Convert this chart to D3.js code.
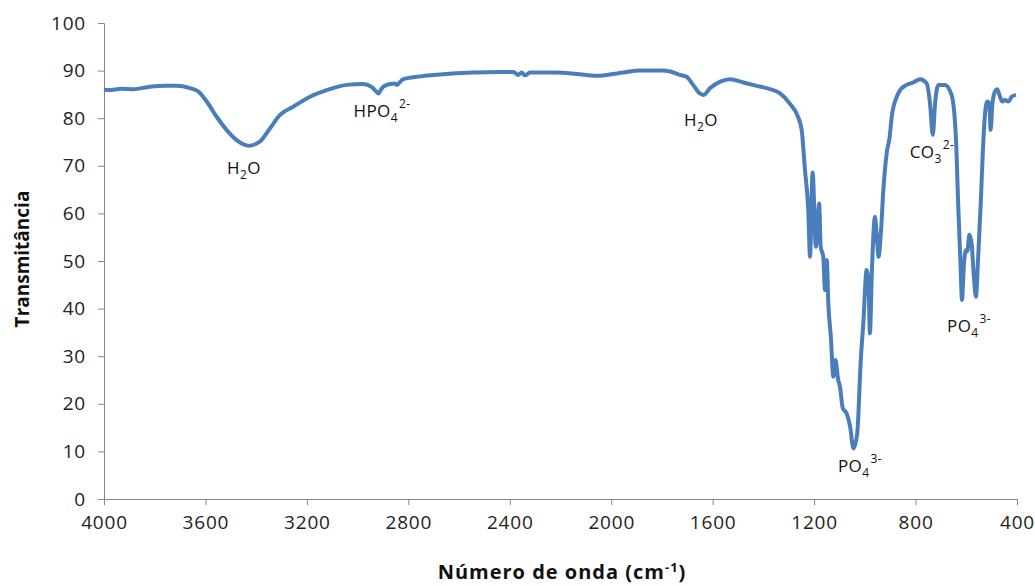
<!DOCTYPE html>
<html>
<head>
<meta charset="utf-8">
<script src="https://cdn.jsdelivr.net/npm/d3@7"></script>
<style>
  body { margin: 0; background: #fff; }
  svg { display: block; }
</style>
</head>
<body>
<div id="chart"></div>
<script>
// spectrum (cm-1 , %T)
var wavenumber = [4000, 3983, 3930, 3884, 3819, 3760, 3713, 3661, 3628, 3595, 3556, 3516, 3477, 3445, 3424, 3405, 3385, 3345, 3306, 3254, 3188, 3122, 3043, 2978, 2945, 2930, 2918, 2908, 2899, 2872, 2852, 2846, 2838, 2820, 2767, 2675, 2544, 2440, 2386, 2366, 2353, 2340, 2320, 2215, 2136, 2057, 2005, 1952, 1887, 1795, 1755, 1729, 1703, 1677, 1651, 1635, 1611, 1570, 1532, 1479, 1426, 1374, 1334, 1295, 1265, 1249, 1236, 1223, 1216, 1206, 1193, 1180, 1174, 1164, 1157, 1150, 1144, 1134, 1124, 1116, 1105, 1098, 1087, 1072, 1058, 1045, 1030, 1016, 1006, 993, 985, 980, 972, 960, 951, 946, 936, 927, 914, 902, 894, 874, 861, 835, 809, 782, 756, 743, 732, 723, 710, 684, 658, 641, 632, 622, 617, 609, 601, 596, 588, 579, 570, 562, 553, 543, 535, 526, 517, 509, 504, 497, 487, 478, 467, 458, 447, 434, 421, 404];
var transmittance = [86.0, 85.9, 86.2, 86.1, 86.6, 86.8, 86.8, 86.3, 85.6, 83.5, 80.3, 77.5, 75.4, 74.4, 74.2, 74.5, 75.1, 77.9, 80.7, 82.4, 84.5, 85.9, 87.0, 87.2, 86.6, 85.8, 85.2, 86.0, 86.6, 87.2, 87.3, 87.0, 87.3, 88.2, 88.7, 89.2, 89.6, 89.7, 89.7, 89.1, 89.6, 89.0, 89.6, 89.6, 89.3, 88.9, 89.2, 89.6, 90.0, 90.0, 89.6, 89.1, 88.7, 87.0, 85.2, 84.9, 86.3, 87.7, 88.2, 87.5, 86.8, 86.1, 85.2, 83.0, 80.5, 77.5, 69.1, 60.7, 50.9, 68.6, 53.0, 62.1, 53.0, 50.9, 43.9, 50.2, 41.1, 34.1, 25.7, 29.2, 25.0, 23.6, 19.1, 18.0, 15.2, 10.6, 13.8, 29.2, 36.9, 48.1, 44.6, 34.8, 48.1, 59.3, 53.7, 50.9, 56.5, 64.9, 72.6, 76.1, 80.3, 84.5, 85.9, 87.0, 87.5, 88.2, 87.3, 83.1, 76.5, 83.1, 87.0, 87.0, 84.9, 76.1, 62.1, 48.1, 41.8, 49.5, 52.3, 52.0, 55.5, 53.7, 46.7, 42.5, 50.9, 62.1, 72.6, 81.0, 83.5, 83.1, 77.5, 83.1, 85.6, 86.1, 84.5, 83.5, 83.8, 83.5, 84.5, 84.9];

var xTicks = [4000, 3600, 3200, 2800, 2400, 2000, 1600, 1200, 800, 400];
var yTicks = [0, 10, 20, 30, 40, 50, 60, 70, 80, 90, 100];

// band labels: [main text, subscript, superscript, tail], placed at (cm-1, %T)
var bandNames = [["H", "2", "", "O"], ["HPO", "4", "2-", ""], ["H", "2", "", "O"], ["CO", "3", "2-", ""], ["PO", "4", "3-", ""], ["PO", "4", "3-", ""]];
var bandX = [3448, 2904, 1646, 735, 589, 1019];
var bandY = [68.3, 80.2, 78.3, 71.6, 35.1, 5.6];

var margin = {top: 23, right: 18, bottom: 87, left: 104};
var width = 1035 - margin.left - margin.right;
var height = 586 - margin.top - margin.bottom;
var font = "'Open Sans', sans-serif";

var svg = d3.select("#chart").append("svg")
    .attr("width", 1035)
    .attr("height", 586)
  .append("g")
    .attr("transform", "translate(" + margin.left + "," + margin.top + ")");

var x = d3.scaleLinear().domain([4000, 400]).range([0, width]);
var y = d3.scaleLinear().domain([0, 100]).range([height, 0]);

// axes
var xAxis = svg.append("g")
    .attr("transform", "translate(0," + height + ")")
    .call(d3.axisBottom(x).tickValues(xTicks).tickSize(6).tickPadding(11).tickFormat(d3.format("d")));
var yAxis = svg.append("g")
    .call(d3.axisLeft(y).tickValues(yTicks).tickSize(6).tickPadding(12));

[xAxis, yAxis].forEach(function(a) {
  a.select(".domain").attr("stroke", "#868686").attr("stroke-width", 1);
  a.selectAll(".tick line").attr("stroke", "#868686");
  a.selectAll(".tick text")
    .style("font-family", font)
    .style("font-size", "19px")
    .style("letter-spacing", "0.8px")
    .attr("fill", "#222");
});

// spectrum line
var pts = wavenumber.map(function(w, i) { return [w, transmittance[i]]; });
var line = d3.line()
    .x(function(d) { return x(d[0]); })
    .y(function(d) { return y(d[1]); })
    .curve(d3.curveMonotoneX);

svg.append("path")
    .datum(pts.slice().reverse())
    .attr("fill", "none")
    .attr("stroke", "#4a7ebb")
    .attr("stroke-width", 4)
    .attr("stroke-linejoin", "round")
    .attr("d", line);

// band labels
bandNames.forEach(function(b, i) {
  var t = svg.append("text")
      .attr("x", x(bandX[i]))
      .attr("y", y(bandY[i]))
      .attr("text-anchor", "middle")
      .style("font-family", font)
      .style("font-size", "17px")
      .style("letter-spacing", "0.4px")
      .attr("fill", "#111");
  t.append("tspan").text(b[0]);
  t.append("tspan").attr("dy", 5).style("font-size", "12px").text(b[1]);
  if (b[2]) t.append("tspan").attr("dx", 1).attr("dy", -14).style("font-size", "12px").text(b[2]);
  if (b[3]) t.append("tspan").attr("dy", -5).text(b[3]);
});

// axis titles
svg.append("text")
    .attr("transform", "rotate(-90)")
    .attr("x", -height / 2 + 2)
    .attr("y", -margin.left + 29)
    .attr("text-anchor", "middle")
    .style("font-family", font)
    .style("font-size", "19px")
    .style("font-weight", 700)
    .attr("fill", "#111")
    .text("Transmitância");

var xt = svg.append("text")
    .attr("x", x(2194))
    .attr("y", height + 80)
    .attr("text-anchor", "middle")
    .style("font-family", font)
    .style("font-size", "20px")
    .style("letter-spacing", "1px")
    .style("font-weight", 700)
    .attr("fill", "#111");
xt.append("tspan").text("Número de onda (cm");
xt.append("tspan").attr("dy", -7).style("font-size", "13px").text("-1");
xt.append("tspan").attr("dy", 7).text(")");
</script>
</body>
</html>
